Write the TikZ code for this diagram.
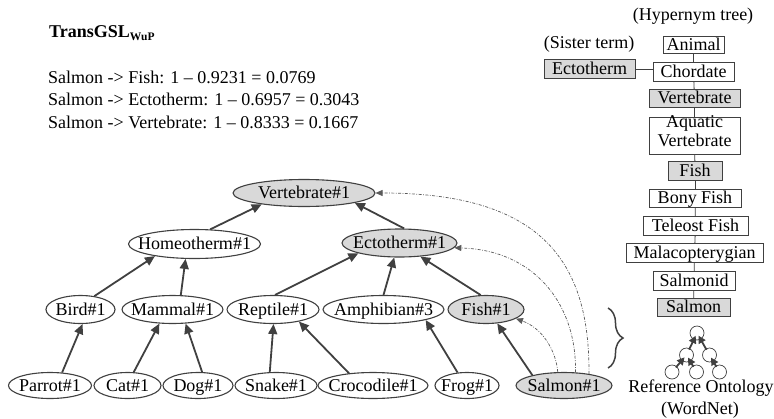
\documentclass[tikz,border=0pt]{standalone}
\usepackage{fontspec}
\setmainfont{Liberation Serif}
\usetikzlibrary{shapes.geometric,arrows.meta,decorations.pathreplacing}
\definecolor{ln}{HTML}{404040}
\definecolor{fillg}{HTML}{D9D9D9}
\definecolor{dsh}{HTML}{5A5A5A}
\newcommand{\zt}[1]{\makebox[0pt]{#1}}
\begin{document}
\begin{tikzpicture}[x=1pt,y=-1pt,
  font=\fontsize{18}{21}\selectfont,
  ell/.style={ellipse, draw=ln, line width=1.1pt, fill=white, inner sep=0pt,
    text height=13pt, text depth=2pt},
  gry/.style={fill=fillg},
  edgearr/.style={draw=ln, line width=1.8pt, -{Triangle[length=10pt,width=9pt]}},
  dashline/.style={draw=dsh, line width=0.7pt, dash pattern=on 3pt off 1.5pt on 0.8pt off 1.5pt,
    -{Triangle[length=7pt,width=6pt]}},
  hbox/.style={draw=ln, line width=0.8pt, fill=white, inner sep=0pt,
    minimum height=18.5pt, text height=13pt, text depth=2.5pt},
  hline/.style={draw=ln, line width=0.8pt},
  icirc/.style={circle, draw=ln, line width=0.7pt, fill=white, minimum size=14pt, inner sep=0pt},
  iarr/.style={draw=ln, line width=1.8pt, -{Triangle[length=7.5pt,width=7.5pt]}, shorten <=6pt, shorten >=3pt},
  txt/.style={inner sep=0pt, anchor=base west}
]
\useasboundingbox (0,0) rectangle (774,418);

% ---- text block
\node[txt] (title) at (49,37.5) {\textbf{TransGSL}\raisebox{-2.5pt}{\fontsize{11.5}{12}\selectfont\textbf{WuP}}};
\node[txt] (l1) at (48,83) {Salmon -> Fish: 1 \textendash\ 0.9231 = 0.0769};
\node[txt] (l2) at (48,105.5) {Salmon -> Ectotherm: 1 \textendash\ 0.6957 = 0.3043};
\node[txt] (l3) at (48,128) {Salmon -> Vertebrate: 1 \textendash\ 0.8333 = 0.1667};

% ---- graph nodes
\node[ell,gry,minimum width=142pt,minimum height=27pt] (vert) at (304,193) {\zt{Vertebrate\#1}};
\node[ell,minimum width=132pt,minimum height=29pt] (hom) at (194.5,244) {\zt{Homeotherm\#1}};
\node[ell,gry,minimum width=115pt,minimum height=28pt] (ect) at (399.5,243) {\zt{Ectotherm\#1}};

\node[ell,minimum width=69pt,minimum height=28pt] (bird) at (80.5,309.5) {\zt{Bird\#1}};
\node[ell,minimum width=101pt,minimum height=28pt] (mam) at (172.5,309.5) {\zt{Mammal\#1}};
\node[ell,minimum width=92pt,minimum height=28pt] (rep) at (273,309.5) {\zt{Reptile\#1}};
\node[ell,minimum width=121pt,minimum height=28pt] (amph) at (383.5,309.5) {\zt{Amphibian\#3}};
\node[ell,gry,minimum width=76pt,minimum height=28pt] (fish) at (486,309.5) {\zt{Fish\#1}};

\node[ell,minimum width=83pt,minimum height=26pt] (parrot) at (50,385.5) {\zt{Parrot\#1}};
\node[ell,minimum width=67pt,minimum height=26pt] (cat) at (127.5,385.5) {\zt{Cat\#1}};
\node[ell,minimum width=70pt,minimum height=26pt] (dog) at (198,385.5) {\zt{Dog\#1}};
\node[ell,minimum width=82pt,minimum height=26pt] (snake) at (276,385.5) {\zt{Snake\#1}};
\node[ell,minimum width=110pt,minimum height=26pt] (croc) at (373,385.5) {\zt{Crocodile\#1}};
\node[ell,minimum width=64pt,minimum height=26pt] (frog) at (467,385.5) {\zt{Frog\#1}};
\node[ell,gry,minimum width=96pt,minimum height=26pt] (salmon) at (564,385.5) {\zt{Salmon\#1}};

% ---- graph edges
\draw[edgearr] (hom.43) -- (vert.195);
\draw[edgearr] (ect.72) -- (vert.349);
\draw[edgearr] (bird.44) -- (hom.197);
\draw[edgearr] (mam.60) -- (hom.239);
\draw[edgearr] (rep.82) -- (ect.194);
\draw[edgearr] (amph.90) -- (ect.250);
\draw[edgearr] (fish.110) -- (ect.327);
\draw[edgearr] (parrot.47) -- (bird.278);
\draw[edgearr] (cat.65) -- (mam.227);
\draw[edgearr] (dog.73) -- (mam.313);
\draw[edgearr] (snake.115) -- (rep.272);
\draw[edgearr] (croc.153) -- (rep.335);
\draw[edgearr] (frog.126) -- (amph.346);
\draw[edgearr] (salmon.162) -- (fish.309);

% ---- dashed similarity curves
\draw[dashline] (salmon.115) .. controls (556,350) and (542,328) .. (fish.343);
\draw[dashline] (salmon.49) .. controls (577,305) and (535,250) .. (ect.355);
\draw[dashline] (salmon.25) .. controls (590,260) and (540,193) .. (vert.east);

% ---- brace
\coordinate (bra) at (608,308);
\coordinate (brb) at (608,368);
\draw[ln, line width=1.5pt, decorate, decoration={brace, amplitude=15pt}] (bra) -- (brb);

% ---- hypernym tree
\node[inner sep=0pt, anchor=base] (hyp) at (693,20.5) {(Hypernym tree)};
\node[inner sep=0pt, anchor=base] (sis) at (589,48.5) {(Sister term)};

\node[hbox,minimum width=61pt,minimum height=16.5pt] (hAnimal) at (693.5,45) {\zt{Animal}};
\node[hbox,minimum width=81pt] (hChord) at (693.5,72) {\zt{Chordate}};
\node[hbox,gry,minimum width=91pt] (hVert) at (694.5,98.5) {\zt{Vertebrate}};
\node[hbox,minimum width=91pt,minimum height=37pt,text height=0pt,text depth=0pt] (hAq) at (694.5,135.5)
  {\zt{\parbox[c]{91pt}{\centering\fontsize{18}{19}\selectfont Aquatic\\Vertebrate}}};
\node[hbox,gry,minimum width=54pt] (hFish) at (695,171) {\zt{Fish}};
\node[hbox,minimum width=92pt] (hBony) at (695,198.5) {\zt{Bony Fish}};
\node[hbox,minimum width=105pt] (hTel) at (695.5,226) {\zt{Teleost Fish}};
\node[hbox,minimum width=137pt] (hMal) at (694.5,253) {\zt{Malacopterygian}};
\node[hbox,minimum width=82pt] (hSalid) at (694,281) {\zt{Salmonid}};
\node[hbox,gry,minimum width=73pt] (hSal) at (693.5,307.5) {\zt{Salmon}};
\node[hbox,gry,minimum width=91pt] (hEct) at (589.5,69) {\zt{Ectotherm}};

\draw[hline] (hAnimal) -- (hChord);
\draw[hline] (hChord) -- (hVert);
\draw[hline] (hVert) -- (hAq);
\draw[hline] (hAq) -- (hFish);
\draw[hline] (hFish) -- (hBony);
\draw[hline] (hBony) -- (hTel);
\draw[hline] (hTel) -- (hMal);
\draw[hline] (hMal) -- (hSalid);
\draw[hline] (hSalid) -- (hSal);
\draw[hline] (hEct.east) -- (hEct.east -| hChord.west);

% ---- reference ontology icon
\node[icirc] (ct) at (697,333) {};
\node[icirc] (cm1) at (686.5,355) {};
\node[icirc] (cm2) at (709.5,355) {};
\node[icirc] (cb1) at (672,372) {};
\node[icirc] (cb2) at (696.5,372) {};
\node[icirc] (cb3) at (719.5,372) {};
\draw[iarr] (cm1.center) -- (ct.center);
\draw[iarr] (cm2.center) -- (ct.center);
\draw[iarr] (cb1.center) -- (cm1.center);
\draw[iarr] (cb2.center) -- (cm1.center);
\draw[iarr] (cb3.center) -- (cm2.center);

\node[inner sep=0pt, anchor=base] (ref1) at (701,392) {Reference Ontology};
\node[inner sep=0pt, anchor=base] (ref2) at (700,414) {(WordNet)};
\end{tikzpicture}
\end{document}
